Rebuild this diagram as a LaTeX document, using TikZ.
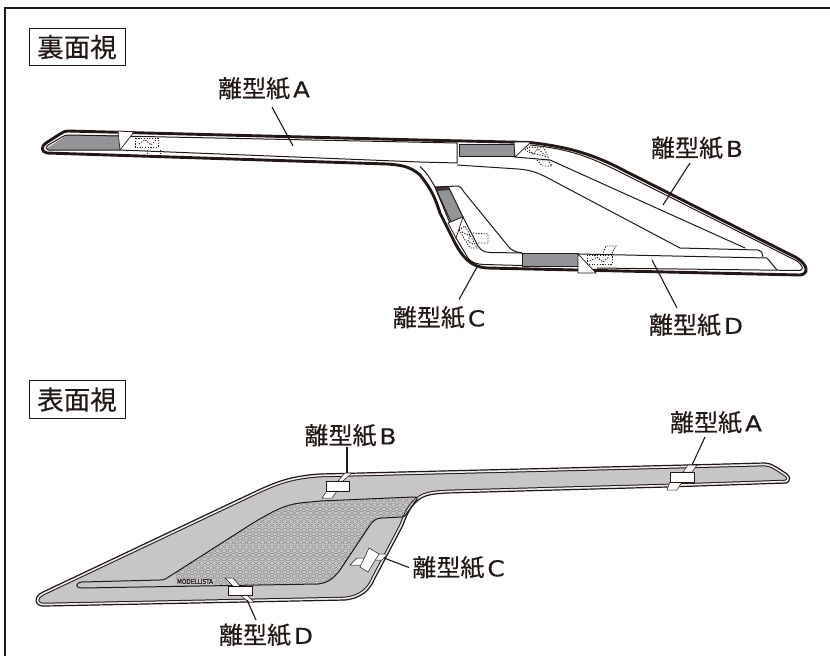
\documentclass[tikz,border=0pt]{standalone}
\usepackage{fontspec}
\usepackage{graphicx}
\newfontfamily\cjk[FakeBold=0.35]{Noto Sans CJK JP}
\newfontfamily\cjktitle[FakeBold=0.15]{Noto Sans CJK JP}
\newfontfamily\latn[FakeBold=0.35,FakeStretch=1.12]{DejaVu Sans}
\newfontfamily\logofont[FakeBold=0.5]{DejaVu Sans Condensed}
\definecolor{ink}{HTML}{231815}
\definecolor{topgray}{HTML}{929497}
\definecolor{bodygray}{HTML}{C6C6C7}
\definecolor{bandgray}{HTML}{EDEDED}
\newcommand{\rlabel}[1]{{\fontsize{24}{24}\selectfont\cjk 離型紙\hspace{3pt}{\latn\fontsize{22}{22}\selectfont #1}}}
\newcommand{\lowershape}{(43,592) -- (250,494) .. controls (275,482) and (290,476) .. (320,474) -- (687,465) -- (765,463) .. controls (771,463) and (778,468) .. (787,474) .. controls (791,477) and (790,482) .. (786,483) -- (667,487) -- (447,493) .. controls (430,494) and (423,495) .. (415,503) .. controls (408,510) and (405,520) .. (402,527) -- (375,578) .. controls (370,590) and (362,598) .. (345,600) -- (45,606) .. controls (35,607) and (32,597) .. (43,592) -- cycle}
\newcommand{\windowshape}{(82,582) -- (160,580) .. controls (164,580) and (165,579) .. (167,578) -- (253,523) .. controls (275,510) and (285,505) .. (300,503) -- (320,501) -- (413,497) .. controls (417,497) and (418,498) .. (417,499) -- (407,513) .. controls (405,516) and (404,517) .. (402,517) -- (382,518) .. controls (376,518) and (373,521) .. (370,525) -- (340,570) .. controls (334,578) and (328,583) .. (318,584) -- (82,588) .. controls (75,588) and (75,583) .. (82,582) -- cycle}
\tikzset{
  rlab/.style={inner sep=0pt,text=ink},
  leader/.style={draw=ink,line width=1.1pt},
  titlebox/.style={draw=ink,line width=1pt,minimum width=96pt,minimum height=37.5pt,inner sep=0pt,text=ink,font=\fontsize{26.5}{26.5}\selectfont\cjktitle},
  outerline/.style={draw=ink,line width=2.9pt,line join=round},
  thinline/.style={draw=ink,line width=1pt,line join=round},
  dots/.style={draw=ink,line width=0.9pt,dash pattern=on 1.2pt off 1.5pt},
  tape/.style={fill=white,draw=ink,line width=0.5pt,line join=miter},
  tri/.style={fill=white,draw=ink,line width=0.7pt},
}
\begin{document}
\begin{tikzpicture}[x=1pt,y=-1pt]
\useasboundingbox (0,0) rectangle (830,656);
\fill[white] (0,0) rectangle (830,656);
\draw[ink,line width=1.2pt] (5,656) -- (5,8) -- (830,8);
\node[titlebox] (t1) at (77,47) {裏面視};
\node[titlebox] (t2) at (77,399.5) {表面視};

% ---------- rear view ----------
\fill[topgray] (47,148) -- (67,135) -- (118,135) -- (120,150) -- (48,150) -- cycle;
\fill[topgray] (459,144) rectangle (514,156);
\fill[topgray] (435,187) -- (448,186) -- (463,217) -- (451,222) -- cycle;
\fill[ink!75!topgray] (435,187) -- (448,186) -- (450,190) -- (437,191) -- cycle;
\fill[topgray] (522,254) rectangle (578,266);
% inner lines
\draw[thinline] (48,150) .. controls (45,148) and (46,146) .. (50,144) -- (62,137) .. controls (64,135.5) and (66,135) .. (70,135) -- (457,143) -- (457,163);
\draw[thinline] (48,150) -- (120,150) -- (420,162) -- (457,163);
\draw[thinline] (459,144) rectangle (514,156);
\draw[thinline] (457,165) -- (518,169) .. controls (530,170) and (536,172) .. (546,177) -- (680,248) -- (758,250) .. controls (761,250) and (762,252) .. (763,257);
\draw[thinline] (515,157) -- (550,160) -- (745,248);
\draw[thinline] (420,166.5) .. controls (426,172) and (430,178) .. (435,187);
\draw[thinline] (435,187) -- (456,238) -- (468,258) .. controls (472,263) and (476,264) .. (484,264.5) -- (522,265.5);
\draw[thinline] (435,187) -- (458,186) .. controls (461,186.5) and (462,189) .. (464,192) -- (508,246) .. controls (511,250) and (515,252) .. (522,253);
\draw[thinline] (463,217) -- (478,246) .. controls (481,250) and (483,252) .. (490,252.5) -- (522,253);
\draw[thinline] (448,186) -- (463,217);
\draw[thinline] (435,187) -- (451,222);
\draw[thinline] (451,222) -- (463,217);
\draw[thinline] (522,253) rectangle (578,266);
\draw[thinline] (578,254) -- (767,258) -- (777,270);
\draw[thinline] (597,268) -- (800,270.5) .. controls (804,269) and (803,266) .. (797,261) -- (620,172) .. controls (590,157) and (570,149) .. (530,145);
% dotted patches
\draw[dots] (135,138) rectangle (158,147);
\draw[dots] (139,144) -- (145,139.5) -- (151,145) -- (156,140);
\draw[dots] (147,150) -- (147,155) -- (160,155) -- (160,150);
\draw[dots] (523,147) -- (528,152) -- (548,157) -- (544,148) -- cycle;
\draw[dots] (527,148) -- (533,154) -- (538,149) -- (545,155);
\draw[dots] (537,160) -- (542,166) -- (552,166) -- (548,160) -- cycle;
\draw[dots] (459,230) -- (470,248) -- (477,248) -- (465,226) -- cycle;
\draw[dots] (462,232) -- (470,236) -- (468,241) -- (474,245);
\draw[dots] (473,233) -- (488,234) -- (488,243) -- (476,243);
\draw[dots] (587,255) rectangle (612,264);
\draw[dots] (590,261) -- (597,257) -- (603,262) -- (609,257);
\draw[dots] (602,255) -- (606,246) -- (616,246) -- (611,255);
% outer contour
\draw[outerline] (68,131) -- (420,140) -- (530,142.5) .. controls (570,147) and (595,155) .. (625,171) -- (797,258) .. controls (808,265) and (809,274) .. (800,275) -- (487,268) .. controls (470,267) and (462,256) .. (455,243) -- (440,213) .. controls (435,198) and (432,190) .. (420,175) .. controls (410,166) and (400,165) .. (387,164) -- (47,153) .. controls (41,152) and (41,146) .. (46,143) -- (60,134) .. controls (63,132) and (65,131) .. (68,131) -- cycle;
% small triangles
\filldraw[tri] (118,131) -- (134,132) -- (120,150) -- cycle;
\filldraw[tri] (514,142) -- (531,142) -- (515,157) -- cycle;
\filldraw[tri] (448,223) -- (463,217) -- (456,238) -- cycle;
\filldraw[tri] (578,254) -- (596,273) -- (578,273) -- cycle;

\node[rlab] (lA) at (264,88.5) {\rlabel{A}};
\node[rlab] (lB) at (697,148) {\rlabel{B}};
\node[rlab] (lC) at (439,317.5) {\rlabel{C}};
\node[rlab] (lD) at (696,325) {\rlabel{D}};
\coordinate (pA) at (293,146);
\coordinate (pB) at (663,205);
\coordinate (pC) at (477,267);
\coordinate (pD) at (652,260);
\draw[leader] ([shift={(8,18.5)}]lA.center) -- (pA);
\draw[leader] ([shift={(-7,15)}]lB.center) -- (pB);
\draw[leader] ([shift={(20,-18)}]lC.center) -- (pC);
\draw[leader] ([shift={(-19,-17)}]lD.center) -- (pD);

% ---------- front view ----------
\fill[bodygray] \lowershape;
\begin{scope}
  \clip \lowershape;
  \draw[ink,line width=6.6pt,line join=round] \lowershape;
  \draw[bandgray,line width=4.6pt,line join=round] \lowershape;
\end{scope}
\draw[ink,line width=1.2pt,line join=round] \lowershape;
\begin{scope}
  \clip (176,480) rectangle (425,590);
  \clip \windowshape;
  \foreach \r in {0,...,25} {
    \pgfmathsetmacro{\yy}{492+4.2*\r}
    \pgfmathsetmacro{\xo}{160+3.2*mod(\r,2)}
    \foreach \c in {0,...,40} {
      \draw[black!55,line width=0.3pt] ({\xo+6.4*\c},\yy) ellipse [x radius=2.7,y radius=1.7];
    }
  }
\end{scope}
\draw[ink,line width=1pt,line join=round] \windowshape;
\fill[bodygray] (176,578.5) rectangle (214,585);
\node[inner sep=0pt,text=ink] (logo) at (195,581.5) {\resizebox{36pt}{5pt}{\logofont MODELLISTA}};

% tapes
\filldraw[tape] (338,481) -- (345,473) -- (352,473) -- (343,481) -- cycle;
\filldraw[tape] (322,498) -- (327,491) -- (337,491) -- (332,498) -- cycle;
\filldraw[tape] (326,481) rectangle (349,491);
\filldraw[tape] (225,578) -- (233,578) -- (240,586) -- (233,586) -- cycle;
\filldraw[tape] (240,595) -- (247,595) -- (254,602) -- (249,602) -- cycle;
\filldraw[tape] (228,586) rectangle (252,595);
\filldraw[tape] (350,565) -- (357,558) -- (366,558) -- (362,565) -- cycle;
\filldraw[tape] (373,560) -- (378,554) -- (388,554) -- (382,560) -- cycle;
\filldraw[tape] (360,567) -- (369,548) -- (379,554) -- (368,572) -- cycle;
\filldraw[tape] (683,472) -- (688,465) -- (697,465) -- (692,472) -- cycle;
\filldraw[tape] (667,490) -- (670,482) -- (682,482) -- (677,490) -- cycle;
\filldraw[tape] (670,472) rectangle (694,482);

\node[rlab] (fA) at (716,422.5) {\rlabel{A}};
\node[rlab] (fB) at (350.5,435.5) {\rlabel{B}};
\node[rlab] (fC) at (458.5,567.5) {\rlabel{C}};
\node[rlab] (fD) at (266,635) {\rlabel{D}};
\coordinate (qA) at (692,465);
\coordinate (qB) at (347,473);
\coordinate (qC) at (384,558);
\coordinate (qD) at (247,600);
\draw[leader] ([shift={(-11,14.5)}]fA.center) -- (qA);
\draw[leader] ([shift={(-3.5,11.5)}]fB.center) -- (qB);
\draw[leader] ([shift={(-49.5,0)}]fC.center) -- (qC);
\draw[leader] ([shift={(-10,-15)}]fD.center) -- (qD);
\end{tikzpicture}
\end{document}
